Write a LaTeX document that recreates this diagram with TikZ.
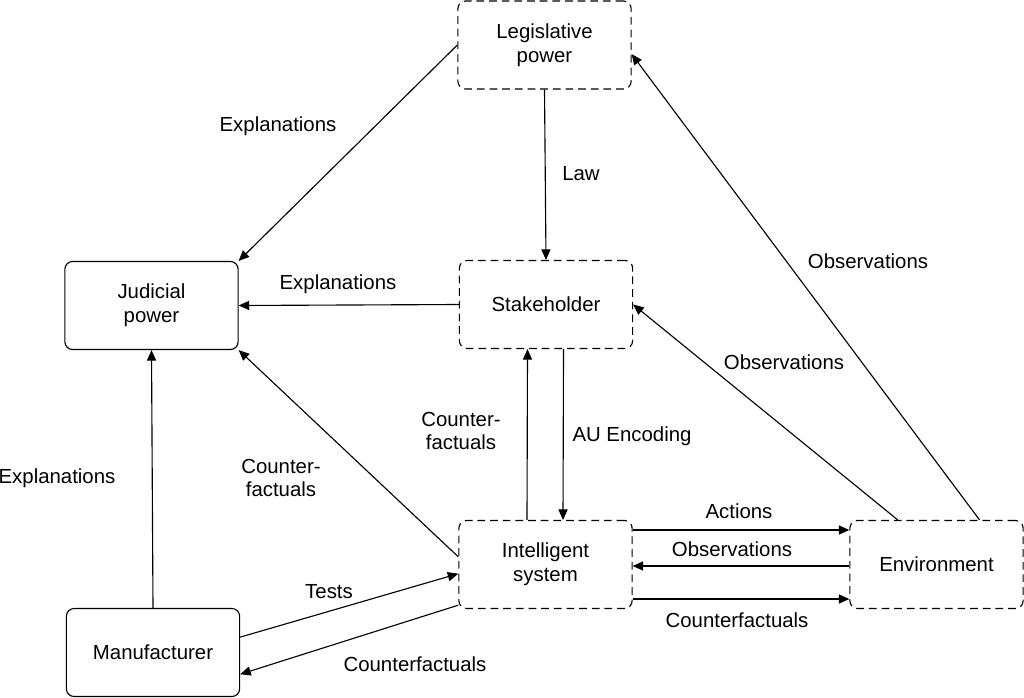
\documentclass[tikz,border=0pt]{standalone}
\usepackage{fontspec}
\setmainfont{Liberation Sans}
\usetikzlibrary{arrows.meta,calc}

\begin{document}
\begin{tikzpicture}[x=0.025cm, y=-0.025cm,
    font=\fontsize{14.5}{17}\selectfont,
    actor/.style={draw, line width=0.8pt, rounded corners=5.5pt, align=center,
        minimum width=4.33cm, minimum height=2.2cm},
    vague/.style={actor, dash pattern=on 5.5pt off 3.5pt},
    arrow/.style={-{Triangle[length=7.5pt, width=6.5pt]}, line width=0.8pt},
    lbl/.style={align=center, inner sep=0pt}]

    % Fix the page size
    \useasboundingbox (0,0) rectangle (1024,697);

    % Draw the boxes
    \node[vague] (legis) at (544.5,45) {Legislative\\power};
    \node[vague] (stake) at (546,304.5) {Stakeholder};
    \node[actor] (judic) at (151.5,305.5) {Judicial\\power};
    \node[vague] (intel) at (545.5,564.5) {Intelligent\\system};
    \node[vague] (env) at (936.5,564.5) {Environment};
    \node[actor] (manuf) at (153,652.5) {Manufacturer};

    % Arrows from the legislative power
    \draw[arrow] (legis.west) -- (judic.north east);
    \draw[arrow] (legis.south) -- (stake.north);

    % Arrows round the stakeholder
    \draw[arrow] (stake.west) -- (judic.east);
    \draw[arrow] ($(intel.north)+(-18.5,0)$) -- ($(stake.south)+(-18.5,0)$);
    \draw[arrow] ($(stake.south)+(17.5,0)$) -- ($(intel.north)+(17.5,0)$);

    % Arrows to the judicial power
    \draw[arrow] (intel.175) -- (judic.south east);
    \draw[arrow] (manuf.north) -- (judic.south);

    % Manufacturer and intelligent system
    \draw[arrow] (manuf.10) -- (intel.186);
    \draw[arrow] (intel.205) -- (manuf.-14);

    % Intelligent system and environment
    \draw[arrow] ($(intel.east)+(0,-34.5)$) -- ($(env.west)+(0,-34.5)$);
    \draw[arrow] ($(env.west)+(0,1.5)$) -- ($(intel.east)+(0,1.5)$);
    \draw[arrow] ($(intel.east)+(0,34.5)$) -- ($(env.west)+(0,34.5)$);

    % Observations from the environment
    \draw[arrow] (env.131) -- (stake.east);
    \draw[arrow] (env.46) -- (legis.-6);

    % Labels
    \node[lbl] (l1) at (278,126) {Explanations};
    \node[lbl] (l2) at (581,174) {Law};
    \node[lbl] (l3) at (338,284) {Explanations};
    \node[lbl] (l4) at (461,431) {Counter-\\factuals};
    \node[lbl] (l5) at (632,436) {AU Encoding};
    \node[lbl] (l6) at (281,478) {Counter-\\factuals};
    \node[lbl] (l7) at (57,478) {Explanations};
    \node[lbl] (l8) at (868,261) {Observations};
    \node[lbl] (l9) at (784,362) {Observations};
    \node[lbl] (l10) at (739,511) {Actions};
    \node[lbl] (l11) at (732,549) {Observations};
    \node[lbl] (l12) at (737,620) {Counterfactuals};
    \node[lbl] (l13) at (329,592) {Tests};
    \node[lbl] (l14) at (415,664) {Counterfactuals};
\end{tikzpicture}
\end{document}
